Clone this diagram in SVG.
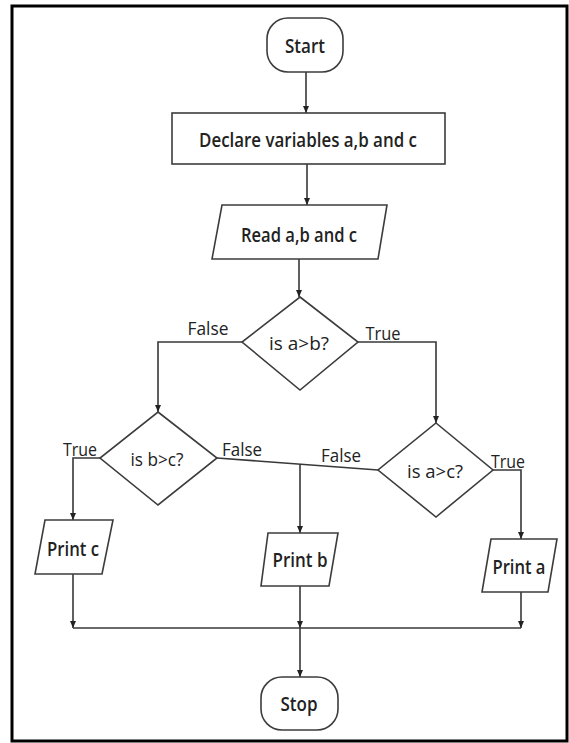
<svg xmlns="http://www.w3.org/2000/svg" width="569" height="743" viewBox="0 0 569 743">
<style>
.node{fill:#fff;stroke:#3c3c3c;stroke-width:1.6}
.conn{fill:none;stroke:#383838;stroke-width:1.6}
.t{font-family:"Open Sans","Liberation Sans",sans-serif;font-size:19px;font-weight:600;fill:#222;text-anchor:middle}
.q{font-family:"Open Sans","Liberation Sans",sans-serif;font-size:19px;font-weight:500;fill:#222;text-anchor:middle}
.lbl{font-family:"Open Sans","Liberation Sans",sans-serif;font-size:19px;font-weight:500;fill:#222;text-anchor:middle}
</style>
<defs>
<marker id="arr" markerUnits="userSpaceOnUse" markerWidth="7" markerHeight="7" refX="7" refY="3.5" orient="auto">
<path d="M0,0.5 L7,3.5 L0,6.5 z" fill="#222"/>
</marker>
</defs>
<rect x="12" y="6" width="555" height="735" fill="#fff" stroke="#000" stroke-width="3"/>
<g id="connectors">
<line class="conn" x1="306" y1="72" x2="306" y2="113" marker-end="url(#arr)"/>
<line class="conn" x1="307" y1="164" x2="307" y2="205" marker-end="url(#arr)"/>
<line class="conn" x1="299" y1="259" x2="299" y2="297" marker-end="url(#arr)"/>
<polyline class="conn" points="242,342 158,342 158,412" marker-end="url(#arr)"/>
<polyline class="conn" points="358,342 436,342 436,423" marker-end="url(#arr)"/>
<polyline class="conn" points="100,458 73,458 73,520" marker-end="url(#arr)"/>
<line class="conn" x1="217" y1="458" x2="378" y2="470"/>
<line class="conn" x1="300" y1="464" x2="300" y2="533" marker-end="url(#arr)"/>
<polyline class="conn" points="493,470 521,470 521,539" marker-end="url(#arr)"/>
<line class="conn" x1="73" y1="574" x2="73" y2="628" marker-end="url(#arr)"/>
<line class="conn" x1="300" y1="586" x2="300" y2="628" marker-end="url(#arr)"/>
<line class="conn" x1="521" y1="592" x2="521" y2="628" marker-end="url(#arr)"/>
<line class="conn" x1="73" y1="628" x2="521" y2="628"/>
<line class="conn" x1="300" y1="628" x2="300" y2="677" marker-end="url(#arr)"/>
<text class="lbl" x="208" y="335" textLength="41" lengthAdjust="spacingAndGlyphs">False</text>
<text class="lbl" x="383" y="340" textLength="35" lengthAdjust="spacingAndGlyphs">True</text>
<text class="lbl" x="80" y="456" textLength="34" lengthAdjust="spacingAndGlyphs">True</text>
<text class="lbl" x="242" y="456" textLength="40" lengthAdjust="spacingAndGlyphs">False</text>
<text class="lbl" x="341" y="462" textLength="40" lengthAdjust="spacingAndGlyphs">False</text>
<text class="lbl" x="508" y="468" textLength="34" lengthAdjust="spacingAndGlyphs">True</text>
</g>
<g id="start">
<rect class="node" x="267" y="18" width="76" height="54" rx="21" ry="21"/>
<text class="t" x="305" y="53" textLength="40" lengthAdjust="spacingAndGlyphs">Start</text>
</g>
<g id="declare">
<rect class="node" x="172" y="113" width="273" height="51"/>
<text class="t" x="308" y="147" textLength="218" lengthAdjust="spacingAndGlyphs">Declare variables a,b and c</text>
</g>
<g id="read">
<polygon class="node" points="222,205 387,205 378,259 212,259"/>
<text class="t" x="299" y="242" textLength="116" lengthAdjust="spacingAndGlyphs">Read a,b and c</text>
</g>
<g id="dec-ab">
<polygon class="node" points="300,297 358,342 300,390 242,342"/>
<text class="q" x="299" y="350" textLength="60" lengthAdjust="spacingAndGlyphs">is a&gt;b?</text>
</g>
<g id="dec-bc">
<polygon class="node" points="158,412 217,458 158,505 100,458"/>
<text class="q" x="157" y="466" textLength="53" lengthAdjust="spacingAndGlyphs">is b&gt;c?</text>
</g>
<g id="dec-ac">
<polygon class="node" points="436,423 493,470 436,517 378,470"/>
<text class="q" x="435" y="478" textLength="56" lengthAdjust="spacingAndGlyphs">is a&gt;c?</text>
</g>
<g id="print-c">
<polygon class="node" points="45,520 113,520 102,574 35,574"/>
<text class="t" x="73" y="556" textLength="52" lengthAdjust="spacingAndGlyphs">Print c</text>
</g>
<g id="print-b">
<polygon class="node" points="268,533 338,533 329,586 261,586"/>
<text class="t" x="300" y="567" textLength="55" lengthAdjust="spacingAndGlyphs">Print b</text>
</g>
<g id="print-a">
<polygon class="node" points="491,539 557,539 548,592 482,592"/>
<text class="t" x="519" y="574" textLength="53" lengthAdjust="spacingAndGlyphs">Print a</text>
</g>
<g id="stop">
<rect class="node" x="261" y="677" width="77" height="53" rx="21" ry="21"/>
<text class="t" x="299" y="711" textLength="37" lengthAdjust="spacingAndGlyphs">Stop</text>
</g>
</svg>
